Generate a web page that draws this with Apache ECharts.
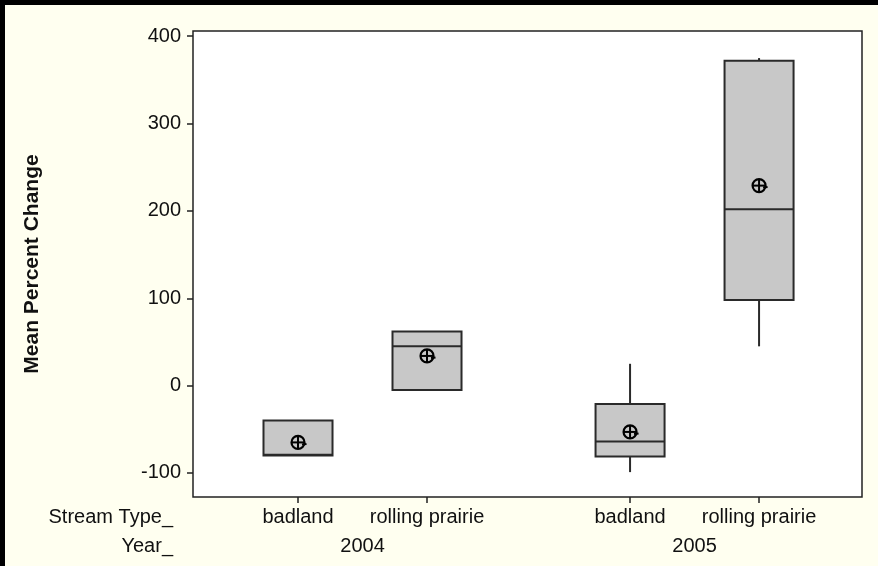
<!DOCTYPE html>
<html>
<head>
<meta charset="utf-8">
<script src="https://cdn.jsdelivr.net/npm/echarts@6/dist/echarts.min.js"></script>
<style>
  html, body { margin: 0; padding: 0; background: #fffff0; }
  #chart { width: 878px; height: 566px; }
</style>
</head>
<body>
<div id="chart"></div>
<script>
// ---- data ----
const streamTypes = ['badland', 'rolling prairie'];
const years = ['2004', '2005'];
// box order: 2004 badland, 2004 rolling prairie, 2005 badland, 2005 rolling prairie
const boxMin    = [-80, -5, -99, 45];
const boxQ1     = [-80, -5, -81, 98];
const boxMedian = [-79, 45, -64, 202];
const boxQ3     = [-40, 62, -21, 372];
const boxMax    = [-40, 62, 25, 375];
const boxMean   = [-65, 34, -53, 229];
const yTicks = [-100, 0, 100, 200, 300, 400];

// ---- layout helpers (positions along the x value axis) ----
const groupSpacing = 2.574;
function slotOf(yearIdx, typeIdx) { return 1 + yearIdx * groupSpacing + typeIdx; }
const slots = [];
const slotType = [];
years.forEach((y, yi) => streamTypes.forEach((t, ti) => { slots.push(slotOf(yi, ti)); slotType.push(t); }));
const yearCenters = years.map((y, yi) => (slotOf(yi, 0) + slotOf(yi, streamTypes.length - 1)) / 2);

const boxData = slots.map((x, i) => [x, boxMin[i], boxQ1[i], boxMedian[i], boxQ3[i], boxMax[i]]);
const meanData = slots.map((x, i) => [x, boxMean[i]]);

function nearestIndex(arr, v) {
  let best = 0;
  arr.forEach((a, i) => { if (Math.abs(a - v) < Math.abs(arr[best] - v)) best = i; });
  return best;
}

const font = 'Liberation Sans, Arial, sans-serif';
const fs = 20;
const chart = echarts.init(document.getElementById('chart'));
chart.setOption({
  backgroundColor: '#fffff0',
  animation: false,
  grid: {
    left: 193, top: 31, right: 16, bottom: 69,
    show: true, backgroundColor: '#ffffff', borderColor: '#222', borderWidth: 1.5
  },
  xAxis: [{
    type: 'value', position: 'bottom', min: 0.186, max: 5.372,
    splitLine: { show: false },
    axisLine: { show: false, onZero: false },
    axisTick: { show: true, inside: false, length: 6, lineStyle: { color: '#222', width: 1.5 }, customValues: slots },
    axisLabel: {
      customValues: slots, margin: 10, color: '#111', fontSize: fs, fontFamily: font,
      formatter: v => slotType[nearestIndex(slots, v)]
    }
  }, {
    type: 'value', position: 'bottom', min: 0.186, max: 5.372,
    splitLine: { show: false },
    axisLine: { show: false, onZero: false },
    axisTick: { show: false },
    axisLabel: {
      customValues: yearCenters, margin: 39, color: '#111', fontSize: fs, fontFamily: font,
      formatter: v => years[nearestIndex(yearCenters, v)]
    }
  }],
  yAxis: {
    type: 'value', min: -127.5, max: 406,
    splitLine: { show: false },
    axisLine: { show: false, onZero: false },
    axisTick: { show: true, inside: false, length: 6, lineStyle: { color: '#222', width: 1.5 }, customValues: yTicks },
    axisLabel: { customValues: yTicks, margin: 12, color: '#111', fontSize: fs, fontFamily: font },
    name: 'Mean Percent Change', nameLocation: 'middle', nameRotate: 90, nameGap: 150,
    nameTextStyle: { fontSize: 21, fontWeight: 'bold', color: '#111', fontFamily: font }
  },
  graphic: [
    { type: 'rect', left: 0, top: 0, shape: { width: 5, height: 566 }, style: { fill: '#000' } },
    { type: 'rect', left: 0, top: 0, shape: { width: 878, height: 5 }, style: { fill: '#000' } },
    { type: 'text', right: 878 - 173, top: 507, style: { text: 'Stream Type_', fontSize: fs, fontFamily: font, fill: '#111', textAlign: 'right' } },
    { type: 'text', right: 878 - 173, top: 536, style: { text: 'Year_', fontSize: fs, fontFamily: font, fill: '#111', textAlign: 'right' } }
  ],
  series: [{
    type: 'custom',
    data: boxData,
    renderItem: (params, api) => {
      const x = api.value(0);
      const pMin = api.coord([x, api.value(1)]);
      const pQ1 = api.coord([x, api.value(2)]);
      const pMed = api.coord([x, api.value(3)]);
      const pQ3 = api.coord([x, api.value(4)]);
      const pMax = api.coord([x, api.value(5)]);
      const w = api.size([0.535, 0])[0];
      const cx = pMed[0];
      const stroke = { stroke: '#2a2a2a', lineWidth: 2 };
      return {
        type: 'group',
        children: [
          { type: 'line', shape: { x1: cx, y1: pQ3[1], x2: cx, y2: pMax[1] }, style: stroke },
          { type: 'line', shape: { x1: cx, y1: pQ1[1], x2: cx, y2: pMin[1] }, style: stroke },
          { type: 'rect', shape: { x: cx - w / 2, y: pQ3[1], width: w, height: pQ1[1] - pQ3[1] },
            style: { fill: '#c8c8c8', stroke: '#2a2a2a', lineWidth: 2 } },
          { type: 'line', shape: { x1: cx - w / 2, y1: pMed[1], x2: cx + w / 2, y2: pMed[1] }, style: stroke }
        ]
      };
    },
    z: 2
  }, {
    type: 'custom',
    xAxisIndex: 0,
    data: meanData,
    renderItem: (params, api) => {
      const p = api.coord([api.value(0), api.value(1)]);
      const r = 6.5;
      const st = { stroke: '#000', lineWidth: 2, fill: null };
      return {
        type: 'group',
        children: [
          { type: 'circle', shape: { cx: p[0], cy: p[1], r: r }, style: { stroke: '#000', lineWidth: 2.2, fill: 'rgba(0,0,0,0)' } },
          { type: 'line', shape: { x1: p[0] - r, y1: p[1], x2: p[0] + r, y2: p[1] }, style: st },
          { type: 'line', shape: { x1: p[0], y1: p[1] - r, x2: p[0], y2: p[1] + r }, style: st },
          { type: 'line', shape: { x1: p[0] + 4, y1: p[1] + 2, x2: p[0] + 8.5, y2: p[1] + 1.5 }, style: st }
        ]
      };
    },
    z: 3
  }]
});
</script>
</body>
</html>
